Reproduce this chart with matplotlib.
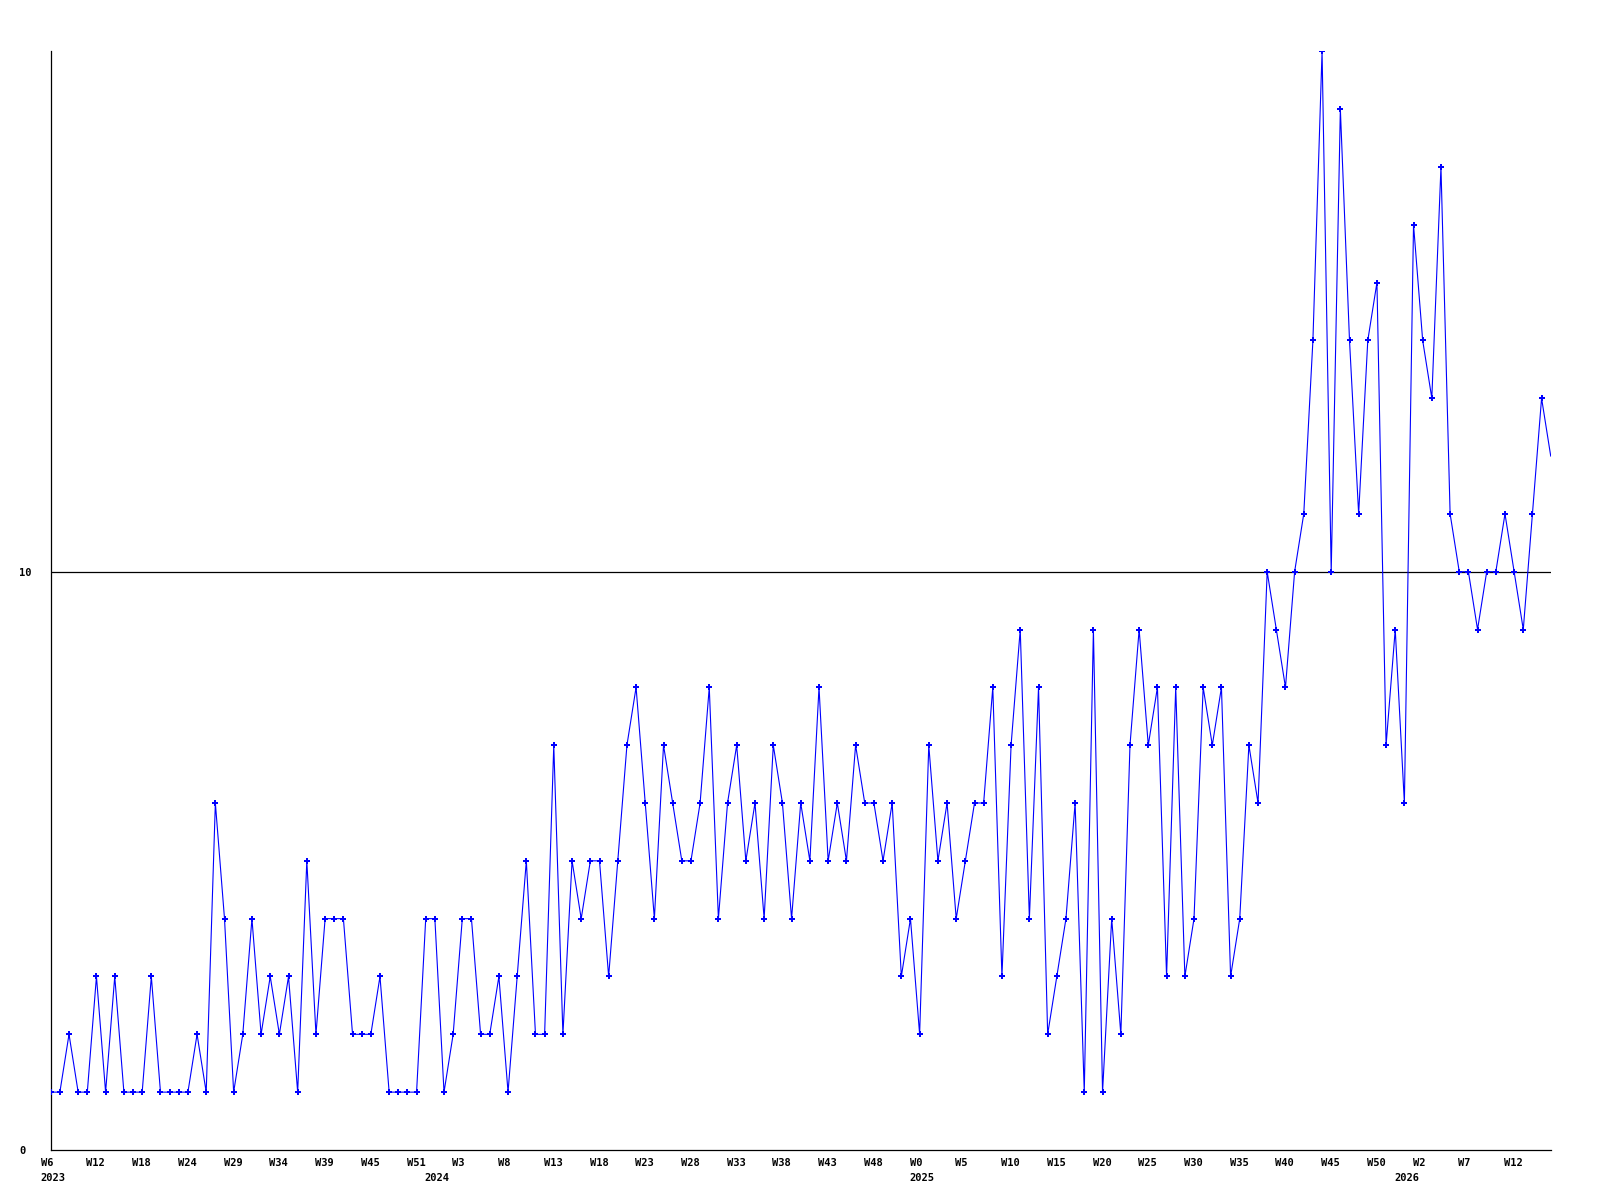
import matplotlib
matplotlib.use("Agg")
import matplotlib.pyplot as plt
import matplotlib.transforms as mtransforms

# weekly counts, first point = 2023 W6 (weeks with no events are skipped)
counts = [1, 1, 2, 1, 1, 3, 1, 3, 1, 1, 1, 3, 1, 1, 1, 1, 2, 1,
          6, 4, 1, 2, 4, 2, 3, 2, 3, 1, 5, 2, 4, 4, 4, 2, 2, 2, 3, 1,
          1, 1, 1, 4, 4, 1, 2, 4, 4, 2, 2, 3,
          1, 3, 5, 2, 2, 7,
          2, 5, 4, 5, 5, 3, 5, 7, 8, 6, 4, 7, 6, 5, 5, 6, 8, 4, 6, 7,
          5, 6, 4, 7, 6, 4, 6, 5, 8, 5, 6, 5, 7, 6, 6, 5, 6, 3, 4, 2,
          7, 5, 6, 4, 5, 6, 6, 8, 3, 7, 9, 4, 8, 2, 3, 4, 6, 1, 9, 1,
          4, 2, 7, 9, 7, 8, 3, 8, 3, 4, 8, 7, 8, 3, 4, 7, 6, 10, 9, 8,
          10, 11, 14, 19, 10, 18, 14, 11, 14, 15, 7, 9, 6, 16, 14, 13, 17, 11,
          10, 10, 9, 10, 10, 11, 10, 9, 11, 13, 12]

week_labels = ["W6", "W12", "W18", "W24", "W29", "W34", "W39", "W45", "W51",
               "W3", "W8", "W13", "W18", "W23", "W28", "W33", "W38", "W43", "W48",
               "W0", "W5", "W10", "W15", "W20", "W25", "W30", "W35", "W40", "W45",
               "W50", "W2", "W7", "W12"]
week_ticks = list(range(0, 5 * len(week_labels), 5))

years = ["2023", "2024", "2025", "2026"]
year_starts = [0, 42, 95, 148]

FONT = dict(family="DejaVu Sans Mono", weight="bold", size=7.5)

fig = plt.figure(figsize=(16, 12), dpi=100)
ax = fig.add_axes([0.0317, 0.0417, 0.9375, 0.9156])

x = list(range(len(counts)))
ax.plot(x, counts, color="#0000ff", linewidth=0.8, marker="P", markersize=4,
        markeredgewidth=0, markevery=list(range(len(counts) - 1)), zorder=3)

# reference line at 10
ax.axhline(10, color="black", linewidth=0.9, zorder=2)

ax.set_xlim(0, len(counts) - 1)
ax.set_ylim(0, 19)

for side in ["top", "right"]:
    ax.spines[side].set_visible(False)
for side in ["left", "bottom"]:
    ax.spines[side].set_linewidth(0.9)
    ax.spines[side].set_color("black")

# y ticks: only 0 and 10, left aligned at the figure edge
ax.set_yticks([0, 10], ["0", "10"])
ax.tick_params(axis="y", length=0, pad=22.8)
for lbl in ax.get_yticklabels():
    lbl.set_horizontalalignment("left")
    lbl.set_fontproperties(matplotlib.font_manager.FontProperties(**FONT))

# x ticks: week labels left aligned just before their point
ax.set_xticks(week_ticks, week_labels)
ax.tick_params(axis="x", length=0, pad=5.5)
shift = mtransforms.ScaledTranslation(-10 / 100, 0, fig.dpi_scale_trans)
for lbl in ax.get_xticklabels():
    lbl.set_horizontalalignment("left")
    lbl.set_transform(lbl.get_transform() + shift)
    lbl.set_fontproperties(matplotlib.font_manager.FontProperties(**FONT))

# year labels under the first week of each year
for yr, pos in zip(years, year_starts):
    ax.annotate(yr, xy=(pos, 0), xycoords=("data", "axes fraction"),
                xytext=(-10, -23), textcoords="offset pixels",
                ha="left", va="top", **FONT)

fig.savefig("out.png", dpi=100)
